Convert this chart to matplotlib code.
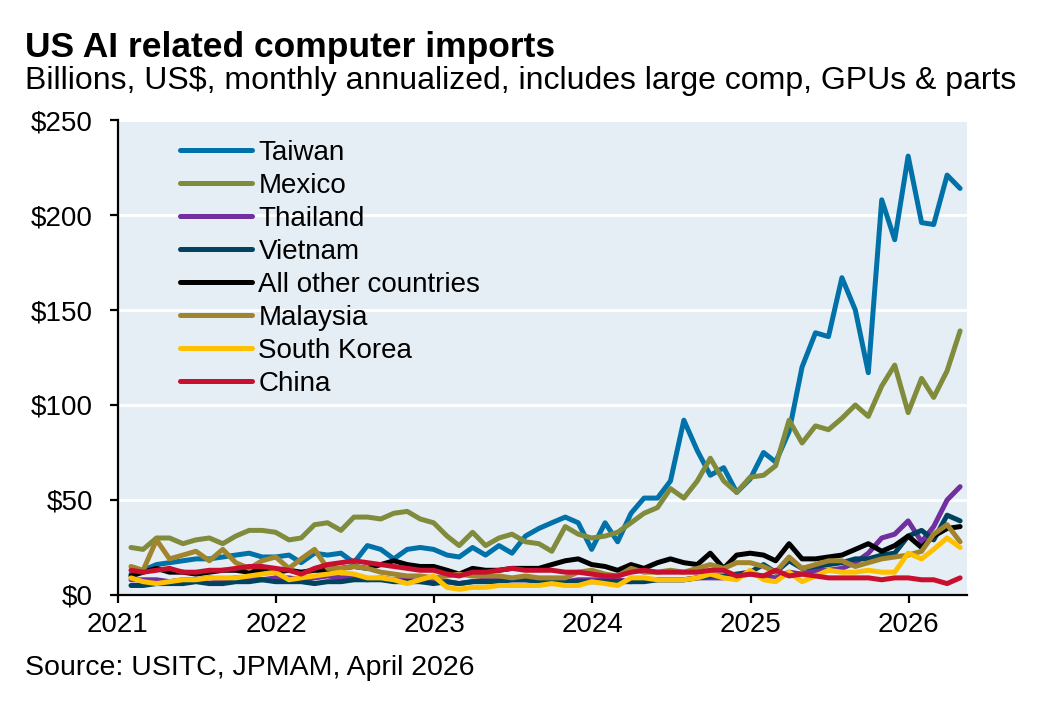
import numpy as np
import pandas as pd
import matplotlib
matplotlib.use("Agg")
from matplotlib import pyplot as plt
import matplotlib.dates as mdates
from matplotlib.ticker import FuncFormatter

plt.rcParams['font.family'] = ['Liberation Sans', 'DejaVu Sans']

# monthly data, Jan 2021 - Apr 2026 (billions US$, annualized)
months = pd.date_range('2021-01-31', periods=64, freq=pd.offsets.MonthEnd())

taiwan = [11, 13, 16, 17, 18, 19, 19, 20, 21, 22, 20, 20,
          21, 17, 22, 21, 22, 17, 26, 24, 19, 24, 25, 24,
          21, 20, 25, 21, 26, 22, 31, 35, 38, 41, 38, 24,
          38, 28, 43, 51, 51, 60, 92, 76, 63, 67, 54, 61,
          75, 70, 86, 120, 138, 136, 167, 150, 117, 208, 187, 231,
          196, 195, 221, 214]
mexico = [25, 24, 30, 30, 27, 29, 30, 27, 31, 34, 34, 33,
          29, 30, 37, 38, 34, 41, 41, 40, 43, 44, 40, 38,
          31, 26, 33, 26, 30, 32, 28, 27, 23, 36, 32, 30,
          31, 33, 38, 43, 46, 56, 51, 60, 72, 60, 54, 62,
          63, 68, 92, 80, 89, 87, 93, 100, 94, 110, 121, 96,
          114, 104, 118, 139]
thailand = [8, 8, 8, 7, 8, 8, 9, 8, 9, 9, 8, 9,
            9, 8, 9, 10, 9, 9, 8, 9, 8, 8, 7, 7,
            7, 6, 7, 8, 8, 8, 8, 8, 8, 7, 8, 8,
            8, 8, 7, 8, 8, 8, 8, 9, 9, 9, 10, 11,
            10, 9, 12, 11, 13, 13, 14, 17, 22, 30, 32, 39,
            28, 36, 50, 57]
vietnam = [5, 5, 6, 6, 6, 7, 6, 6, 7, 7, 8, 7,
           7, 7, 6, 7, 7, 8, 8, 8, 7, 7, 7, 6,
           7, 6, 7, 7, 7, 8, 8, 7, 7, 7, 7, 7,
           7, 7, 7, 7, 8, 8, 8, 9, 10, 10, 11, 12,
           16, 12, 18, 14, 15, 16, 17, 19, 19, 21, 22, 31,
           34, 29, 42, 39]
all_other = [10, 12, 14, 12, 12, 11, 12, 13, 13, 12, 13, 12,
             13, 12, 13, 13, 14, 15, 14, 16, 18, 16, 15, 15,
             13, 11, 14, 13, 13, 14, 14, 14, 16, 18, 19, 16,
             15, 13, 16, 14, 17, 19, 17, 16, 22, 14, 21, 22,
             21, 18, 27, 19, 19, 20, 21, 24, 27, 23, 26, 31,
             25, 31, 35, 36]
malaysia = [15, 13, 29, 19, 21, 23, 18, 24, 17, 14, 18, 20,
            14, 19, 24, 14, 14, 15, 14, 12, 11, 10, 10, 9,
            10, 11, 10, 10, 10, 9, 10, 9, 9, 9, 12, 13,
            11, 10, 14, 12, 12, 13, 12, 14, 16, 14, 17, 17,
            15, 12, 20, 14, 16, 18, 18, 15, 17, 19, 20, 21,
            23, 32, 37, 28]
south_korea = [9, 7, 6, 7, 8, 8, 9, 9, 9, 10, 11, 12,
               8, 9, 10, 11, 12, 11, 9, 9, 8, 6, 8, 10,
               4, 3, 4, 4, 5, 5, 5, 5, 6, 5, 5, 7,
               6, 5, 9, 9, 8, 8, 8, 9, 11, 9, 8, 13,
               8, 7, 12, 7, 10, 13, 12, 12, 13, 12, 12, 22,
               19, 24, 30, 25]
china = [13, 12, 13, 14, 12, 12, 13, 13, 14, 15, 15, 14,
         13, 11, 14, 16, 17, 18, 17, 16, 15, 14, 13, 13,
         11, 10, 12, 12, 13, 14, 13, 13, 13, 12, 12, 11,
         10, 10, 12, 13, 12, 12, 12, 12, 13, 13, 10, 11,
         10, 13, 10, 11, 10, 9, 9, 9, 9, 8, 9, 9,
         8, 8, 6, 9]

series = [('Taiwan', taiwan, '#0071A9'),
          ('Mexico', mexico, '#808B3C'),
          ('Thailand', thailand, '#7030A0'),
          ('Vietnam', vietnam, '#00425F'),
          ('All other countries', all_other, '#000000'),
          ('Malaysia', malaysia, '#A0852E'),
          ('South Korea', south_korea, '#FFC000'),
          ('China', china, '#C8102E')]

fig = plt.figure(figsize=(10.46, 7.14), dpi=100)
ax = fig.add_axes([0.1128, 0.1667, 0.8117, 0.6652])
ax.set_facecolor('#E5EEF5')

for name, vals, col in series:
    ax.plot(months, vals, color=col, lw=3.6, label=name,
            solid_joinstyle='round', solid_capstyle='round')

ax.set_ylim(0, 250)
ax.set_yticks([0, 50, 100, 150, 200, 250])
ax.yaxis.set_major_formatter(FuncFormatter(lambda v, p: '$%d' % v))
ax.set_xlim(pd.Timestamp('2021-01-01'), pd.Timestamp('2026-05-16'))
ax.xaxis.set_major_locator(mdates.YearLocator())
ax.xaxis.set_major_formatter(mdates.DateFormatter('%Y'))

ax.grid(axis='y', color='white', lw=2)
ax.set_axisbelow(True)
for s in ['top', 'right']:
    ax.spines[s].set_visible(False)
for s in ['left', 'bottom']:
    ax.spines[s].set_linewidth(1.6)
ax.tick_params(axis='both', length=6, width=1.6, labelsize=20, direction='out')
ax.tick_params(axis='y', pad=12)
ax.tick_params(axis='x', pad=6)

ax.legend(loc='upper left', bbox_to_anchor=(0.06, 0.981), frameon=False, fontsize=20,
          handlelength=2.6, handletextpad=0.22, labelspacing=0.25, borderaxespad=0)

fig.text(0.024, 0.934, 'US AI related computer imports', fontsize=25.5, fontweight='bold',
         va='center', ha='left')
fig.text(0.024, 0.886, 'Billions, US$, monthly annualized, includes large comp, GPUs & parts',
         fontsize=23, va='center', ha='left')
fig.text(0.024, 0.064, 'Source: USITC, JPMAM, April 2026', fontsize=20.5, va='center', ha='left')

fig.savefig('out.png', dpi=100)
